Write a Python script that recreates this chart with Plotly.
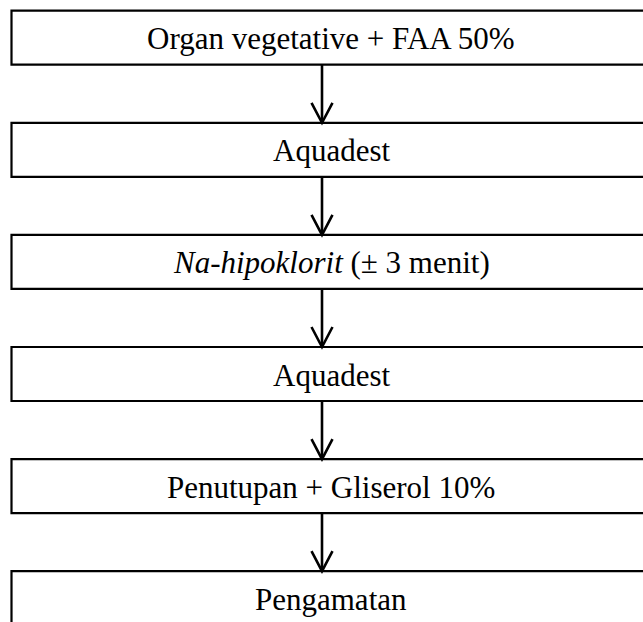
"""Flowchart: preparation steps for vegetative organ observation."""

import plotly.graph_objects as go

steps = [
    "Organ vegetative + FAA 50%",
    "Aquadest",
    "<i>Na-hipoklorit</i> (± 3 menit)",
    "Aquadest",
    "Penutupan + Gliserol 10%",
    "Pengamatan",
]

W, H = 643, 622
BOX_LEFT, BOX_RIGHT = 11.5, 700
FIRST_TOP, PITCH, BOX_H = 10.7, 112.1, 54
TEXT_X = 331
ARROW_X = 322
HEAD_W, HEAD_H = 10.5, 20

fig = go.Figure()
shapes = []
annotations = []
line = dict(color="black", width=2.2)

for i, label in enumerate(steps):
    top = FIRST_TOP + i * PITCH
    bottom = top + BOX_H
    shapes.append(dict(type="rect", x0=BOX_LEFT, x1=BOX_RIGHT, y0=top, y1=bottom,
                       xref="x", yref="y", line=line, fillcolor="white", layer="below"))
    annotations.append(dict(x=TEXT_X, y=top + BOX_H / 2 + 1, text=label, showarrow=False,
                            xref="x", yref="y", xanchor="center", yanchor="middle",
                            font=dict(family="Liberation Serif", size=31, color="black")))
    if i < len(steps) - 1:
        next_top = top + PITCH
        shapes.append(dict(type="line", x0=ARROW_X, x1=ARROW_X, y0=bottom, y1=next_top,
                           xref="x", yref="y", line=dict(color="black", width=2.6)))
        shapes.append(dict(type="path",
                           path=f"M {ARROW_X - HEAD_W},{next_top - HEAD_H} L {ARROW_X},{next_top} "
                                f"L {ARROW_X + HEAD_W},{next_top - HEAD_H}",
                           xref="x", yref="y", line=dict(color="black", width=2.6)))

fig.update_layout(
    width=W,
    height=H,
    margin=dict(l=0, r=0, t=0, b=0),
    paper_bgcolor="white",
    plot_bgcolor="white",
    shapes=shapes,
    annotations=annotations,
    showlegend=False,
    xaxis=dict(range=[0, W], visible=False, fixedrange=True),
    yaxis=dict(range=[H, 0], visible=False, fixedrange=True),
)

# drop the default page margin so the figure fills the window exactly
fig.write_html(
    "out.html",
    config={"displayModeBar": False},
    post_script="document.body.style.margin='0';document.body.style.overflow='hidden';",
)
